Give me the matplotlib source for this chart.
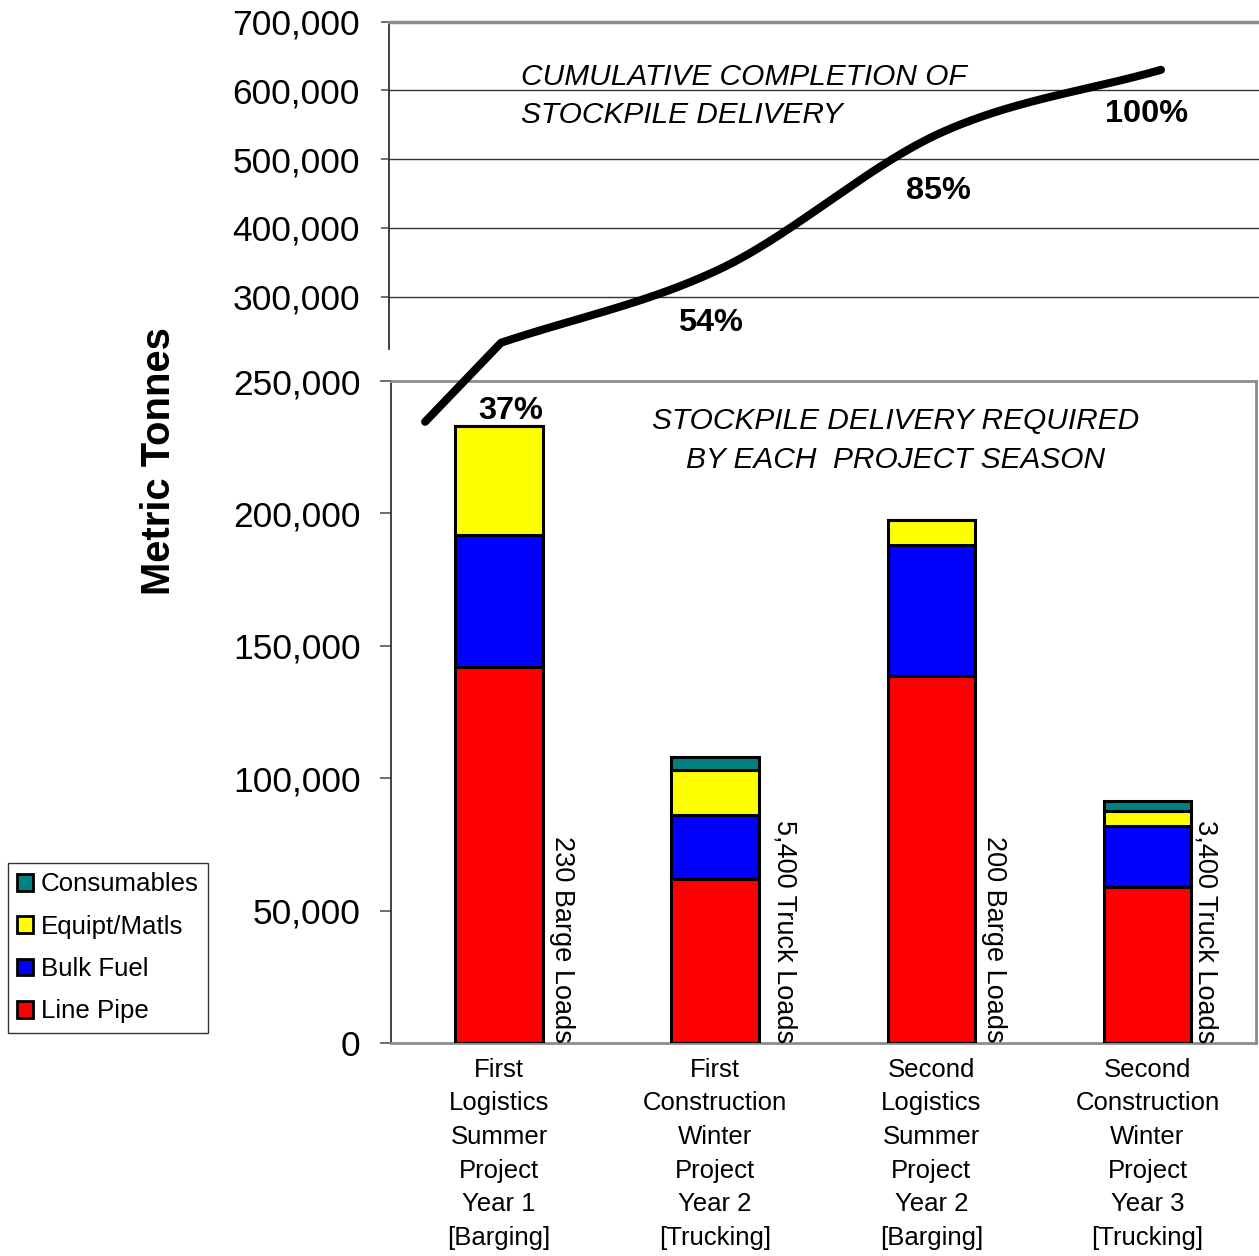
import numpy as np
import matplotlib
matplotlib.use("Agg")
import matplotlib.pyplot as plt
from matplotlib.patches import Patch

plt.rcParams['font.family'] = ['Liberation Sans', 'DejaVu Sans']

# ---- data -------------------------------------------------------------
seasons = [
    "First\nLogistics\nSummer\nProject\nYear 1\n[Barging]",
    "First\nConstruction\nWinter\nProject\nYear 2\n[Trucking]",
    "Second\nLogistics\nSummer\nProject\nYear 2\n[Barging]",
    "Second\nConstruction\nWinter\nProject\nYear 3\n[Trucking]",
]
line_pipe = [142000, 62000, 138500, 59000]
bulk_fuel = [50000, 24000, 49500, 23000]
equipt_matls = [41000, 17000, 9500, 5700]
consumables = [0, 5000, 0, 3800]
load_labels = ["230 Barge Loads", "5,400 Truck Loads",
               "200 Barge Loads", "3,400 Truck Loads"]

series_names = ["Line Pipe", "Bulk Fuel", "Equipt/Matls", "Consumables"]
series_colors = ["#FF0000", "#0000FF", "#FFFF00", "#008080"]

# cumulative delivery curve starts from this point before the first season
curve_start_x = -0.345
curve_start_value = 118000

lower_ticks = [0, 50000, 100000, 150000, 200000, 250000]
upper_ticks = [300000, 400000, 500000, 600000, 700000]

# ---- figure layout (pixels) ------------------------------------------
W, H = 1259, 1256
fig = plt.figure(figsize=(W / 100, H / 100), dpi=100)
fig.patch.set_facecolor("white")


def rect(x0, y0, x1, y1):
    """Figure-fraction rect from pixel box (top-left origin)."""
    return [x0 / W, 1 - y1 / H, (x1 - x0) / W, (y1 - y0) / H]


ax = fig.add_axes(rect(391, 381, 1255.5, 1043))
ax_up = fig.add_axes(rect(389, 21.7, 1259, 430), zorder=5)
ax_up.patch.set_alpha(0)

x = np.arange(len(seasons))
width = 0.405

# ---- stacked bars -----------------------------------------------------
stack = [line_pipe, bulk_fuel, equipt_matls, consumables]
bottom = np.zeros(len(seasons))
for vals, name, col in zip(stack, series_names, series_colors):
    vals = np.asarray(vals, dtype=float)
    ax.bar(x, vals, width, bottom=bottom, color=col, edgecolor="black",
           linewidth=2.2, label=name, zorder=3)
    bottom += vals
totals = bottom.copy()

ax.set_xlim(-0.5, 3.5)
ax.set_ylim(0, 250000)
ax.set_yticks(lower_ticks)
ax.set_yticklabels([f"{v:,}" for v in lower_ticks])
ax.set_xticks(x)
ax.set_xticklabels(seasons, fontsize=18.5, linespacing=1.51)
ax.tick_params(axis="x", length=0, pad=10.5)
ax.tick_params(axis="y", length=8, width=1.2, color="#555555",
               labelsize=25.5, pad=14)
for side in ["top", "right", "bottom"]:
    ax.spines[side].set_color("#8c8c8c")
    ax.spines[side].set_linewidth(2)
ax.spines["left"].set_color("#333333")
ax.spines["left"].set_linewidth(1.3)

# truckload / bargeload notes beside each bar
gaps_px = [12, 19, 12, 7]
for xi, txt, g in zip(x, load_labels, gaps_px):
    ax.annotate(txt, xy=(xi + width / 2, 0), xytext=(g * 0.72, 0),
                textcoords="offset points", rotation=-90,
                rotation_mode="anchor", ha="right", va="baseline",
                fontsize=19.5, zorder=4)

ax.text(0.584, 0.9101, "STOCKPILE DELIVERY REQUIRED\nBY EACH  PROJECT SEASON",
        transform=ax.transAxes, ha="center", va="center",
        multialignment="center", fontsize=21.5, style="italic",
        linespacing=1.48)

# ---- cumulative curve -------------------------------------------------
cumulative = np.cumsum(totals)
total_all = cumulative[-1]

y_top_px, y_bot_px, px_per_100k = 21.7, 430, 68.75
up_bottom = 700000 - (y_bot_px - y_top_px) / px_per_100k * 100000
ax_up.set_ylim(up_bottom, 700000)
# the curve panel uses a slightly wider season spacing than the bars
ax_up.set_xlim((389 - 501) / 220, (1259 - 501) / 220)


def hermite(xs, ys, n=80):
    pts = np.column_stack([xs, ys]).astype(float)
    tang = np.zeros_like(pts)
    tang[0] = pts[1] - pts[0]
    tang[-1] = pts[-1] - pts[-2]
    tang[1:-1] = (pts[2:] - pts[:-2]) / 2
    t = np.linspace(0, 1, n)[:, None]
    h00 = 2 * t**3 - 3 * t**2 + 1
    h10 = t**3 - 2 * t**2 + t
    h01 = -2 * t**3 + 3 * t**2
    h11 = t**3 - t**2
    segs = []
    for i in range(len(pts) - 1):
        segs.append(h00 * pts[i] + h10 * tang[i] + h01 * pts[i + 1]
                    + h11 * tang[i + 1])
    return np.vstack(segs)


curve = hermite(x, cumulative)
cx = np.concatenate([[curve_start_x], curve[:, 0]])
cy = np.concatenate([[curve_start_value], curve[:, 1]])
ax_up.plot(cx, cy, color="black", linewidth=5.8, solid_capstyle="round",
           solid_joinstyle="round", zorder=6)

pct_offsets = [(7, -49), (-7.5, -39.5), (-1.5, -42), (-10.5, -31.5)]
for xi, cv, off in zip(x, cumulative, pct_offsets):
    ax_up.annotate(f"{round(cv / total_all * 100):d}%", xy=(xi, cv),
                   xytext=off, textcoords="offset points", ha="center",
                   va="center", fontsize=23.4, fontweight="bold",
                   annotation_clip=False, zorder=7)

ax_up.set_yticks(upper_ticks)
ax_up.set_yticklabels([f"{v:,}" for v in upper_ticks])
ax_up.set_xticks([])
ax_up.grid(axis="y", color="#333333", linewidth=1.0)
ax_up.set_axisbelow(True)
ax_up.tick_params(axis="y", length=6, width=1.2, color="#555555",
                  labelsize=25.5, pad=15)
ax_up.spines["right"].set_visible(False)
ax_up.spines["bottom"].set_visible(False)
ax_up.spines["top"].set_color("#8c8c8c")
ax_up.spines["top"].set_linewidth(2.5)
ax_up.spines["left"].set_color("#333333")
ax_up.spines["left"].set_linewidth(1.3)
ax_up.spines["left"].set_bounds(224000, 700000)

fig.text(521 / W, 1 - 96 / H, "CUMULATIVE COMPLETION OF\nSTOCKPILE DELIVERY",
         ha="left", va="center", fontsize=21.5, style="italic",
         linespacing=1.44)

# ---- axis title and legend -------------------------------------------
fig.text(159 / W, 1 - 461.5 / H, "Metric Tonnes", rotation=90,
         ha="center", va="center", fontsize=28.8, fontweight="bold")

handles = [Patch(facecolor=c, edgecolor="black", linewidth=2, label=n)
           for n, c in zip(series_names, series_colors)][::-1]
leg = fig.legend(handles=handles, loc="upper left",
                 bbox_to_anchor=(8 / W, 1 - 863 / H),
                 bbox_transform=fig.transFigure, borderaxespad=0,
                 frameon=True, fancybox=False, edgecolor="black",
                 fontsize=18.6, handlelength=0.62, handleheight=0.62,
                 handletextpad=0.3, labelspacing=0.71, borderpad=0.36)
leg.get_frame().set_linewidth(1.0)

fig.savefig("out.png", dpi=100, facecolor="white")
